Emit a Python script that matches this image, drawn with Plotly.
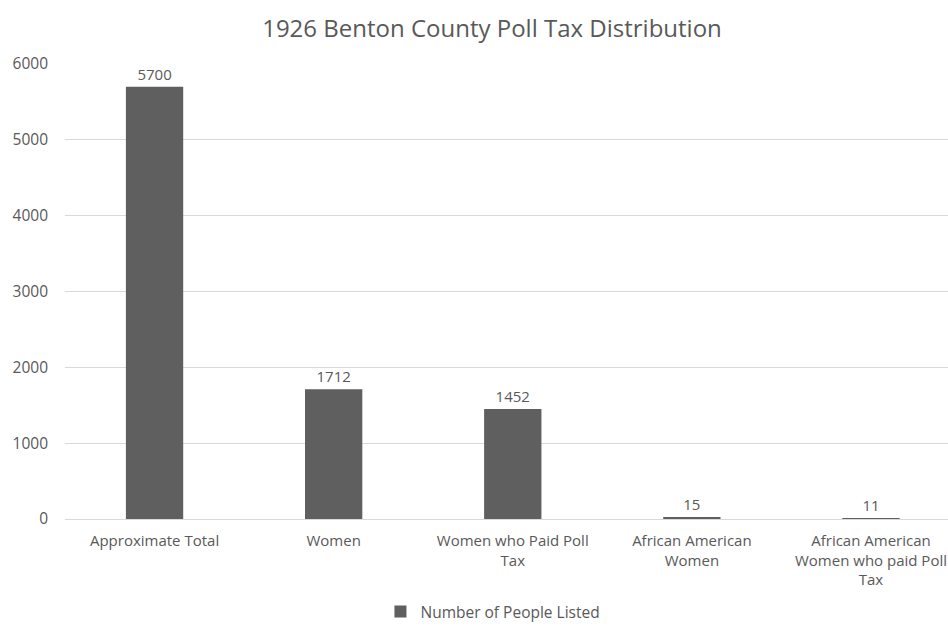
import plotly.graph_objects as go

categories = ["Approximate Total", "Women", "Women who Paid Poll<br>Tax",
              "African American<br>Women", "African American<br>Women who paid Poll<br>Tax"]
values = [5700, 1712, 1452, 15, 11]
series_name = "Number of People Listed"
y_ticks = [0, 1000, 2000, 3000, 4000, 5000, 6000]

txt = "#595959"
font = "Open Sans"

fig = go.Figure(go.Bar(
    x=categories, y=values, name=series_name,
    marker=dict(color="#5f5f5f", line=dict(width=0)),
    width=0.32,
    text=[str(v) for v in values], textposition="outside",
    textfont=dict(color=txt, size=15, family=font),
    cliponaxis=False,
    showlegend=True,
))

fig.update_layout(
    width=948, height=629,
    margin=dict(l=65, r=0, t=64, b=110),
    paper_bgcolor="white", plot_bgcolor="white",
    title=dict(text="1926 Benton County Poll Tax Distribution", x=0.519, xanchor="center",
               y=0.955, yanchor="middle", font=dict(size=24, color=txt, family=font)),
    font=dict(family=font, color=txt),
    xaxis=dict(range=[-0.5, 4.43], tickfont=dict(size=15, color=txt, family=font),
               showline=True, linecolor="#d9d9d9", linewidth=1, ticks="", showgrid=False,
               ticklabelstandoff=8, automargin=False),
    yaxis=dict(range=[0, 6000], tickvals=y_ticks, tickfont=dict(size=15.5, color=txt, family=font),
               showgrid=True, gridcolor="#d9d9d9", gridwidth=1, zeroline=False, ticks="",
               ticklabelstandoff=16, automargin=False),
    legend=dict(orientation="h", x=0.52, xanchor="center", xref="container",
                y=0.0, yanchor="bottom", yref="container",
                font=dict(size=15.5, color=txt, family=font)),
)

fig.write_html("out.html", config={"displayModeBar": False},
               post_script="document.body.style.margin='0';document.body.style.overflow='hidden';")
